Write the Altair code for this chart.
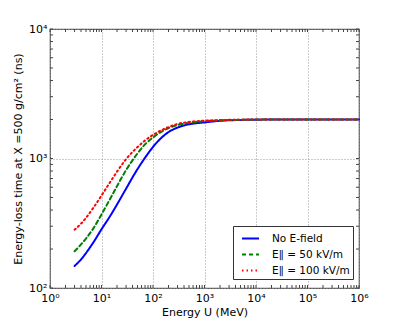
import altair as alt
import pandas as pd

# Energy U (MeV) sample points
energy = [3, 4, 5, 7, 10, 15, 20, 30, 50, 70, 100, 200, 300, 500, 1000, 2000, 5000, 1e4, 1e5, 1e6]
# Energy-loss time (ns)
no_field = [148, 166, 186, 226, 284, 364, 441, 585, 828, 1013, 1229, 1599, 1733, 1837, 1900, 1955, 1985, 1995, 2000, 2000]
e50 = [192, 217, 241, 290, 370, 495, 612, 813, 1094, 1285, 1455, 1718, 1810, 1885, 1940, 1972, 1990, 1997, 2000, 2000]
e100 = [282, 314, 348, 418, 518, 665, 791, 988, 1225, 1377, 1522, 1748, 1850, 1915, 1958, 1980, 1994, 1998, 2000, 2000]

series_names = ["No E-field", "E\u2225 = 50 kV/m", "E\u2225 = 100 kV/m"]
series_colors = ["#0000ff", "#008000", "#ff0000"]
series_dash = [[1, 0], [4, 3], [1.5, 3]]

x_major = [1, 10, 100, 1e3, 1e4, 1e5, 1e6]
y_major = [100, 1000, 10000]

rows = []
for name, vals in zip(series_names, [no_field, e50, e100]):
    for e, t in zip(energy, vals):
        rows.append({"E": e, "t": t, "series": name})
df = pd.DataFrame(rows)

# axis decoration ticks (inside, like matplotlib)
x_minor = [m * 10 ** k for k in range(6) for m in range(2, 10)]
y_minor = [m * 10 ** k for k in range(2, 4) for m in range(2, 10)]
xt = pd.DataFrame({"E": x_major + x_minor})
yt = pd.DataFrame({"t": y_major + y_minor})

W, H = 309, 259
FONT = "DejaVu Sans"

xscale = alt.Scale(type="log", domain=[1, 1e6], nice=False)
yscale = alt.Scale(type="log", domain=[100, 10000], nice=False)

sup = "['\u2070','\u00b9','\u00b2','\u00b3','\u2074','\u2075','\u2076']"
lab = "'10' + " + sup + "[round(log(datum.value)/LN10)]"

x_axis = alt.Axis(values=x_major, ticks=False, grid=True, domain=False, labelExpr=lab,
                  labelPadding=4, titlePadding=3, labelFlush=False)
y_axis = alt.Axis(values=y_major, ticks=False, grid=True, domain=False, labelExpr=lab,
                  labelPadding=3, titlePadding=5, labelFlush=False)
XT = "Energy U (MeV)"
YT = "Energy-loss time at X =500 g/cm\u00b2  (ns)"

leg = dict(orient="none", legendX=183, legendY=197, title=None,
           symbolType="stroke", symbolSize=289, symbolStrokeWidth=2,
           labelFontSize=10.5, labelFont=FONT, labelOffset=12,
           symbolOffset=5, padding=3, rowPadding=1,
           strokeColor="#333333", fillColor="white", cornerRadius=0)

lines = alt.Chart(df).mark_line(strokeWidth=2, interpolate="monotone", strokeCap="round").encode(
    x=alt.X("E:Q", scale=xscale, title=XT, axis=x_axis),
    y=alt.Y("t:Q", scale=yscale, title=YT, axis=y_axis),
    color=alt.Color("series:N", scale=alt.Scale(domain=series_names, range=series_colors),
                    legend=alt.Legend(**leg)),
    strokeDash=alt.StrokeDash("series:N", scale=alt.Scale(domain=series_names, range=series_dash),
                              legend=alt.Legend(**leg)),
    order=alt.Order("E:Q"),
)

tick_col = "#444444"
xb = alt.Chart(xt).mark_rule(color=tick_col, strokeWidth=1).encode(
    x=alt.X("E:Q", scale=xscale, title=XT, axis=x_axis), y=alt.value(H), y2=alt.value(H - 3))
xtop = alt.Chart(xt).mark_rule(color=tick_col, strokeWidth=1).encode(
    x=alt.X("E:Q", scale=xscale, title=XT, axis=x_axis), y=alt.value(0), y2=alt.value(3))
yl = alt.Chart(yt).mark_rule(color=tick_col, strokeWidth=1).encode(
    y=alt.Y("t:Q", scale=yscale, title=YT, axis=y_axis), x=alt.value(0), x2=alt.value(3))
yr = alt.Chart(yt).mark_rule(color=tick_col, strokeWidth=1).encode(
    y=alt.Y("t:Q", scale=yscale, title=YT, axis=y_axis), x=alt.value(W), x2=alt.value(W - 3))

chart = alt.layer(lines, xb, xtop, yl, yr).properties(
    width=W, height=H,
    autosize=alt.AutoSizeParams(type="none"),
    padding={"left": 42, "top": 21, "right": 30, "bottom": 30},
    background="white",
).configure_view(stroke="#555555", strokeWidth=1.2).configure_axis(
    labelFont=FONT, titleFont=FONT, labelFontSize=11, titleFontSize=11,
    titleFontWeight="normal", labelColor="black", titleColor="black",
    gridColor="#999999", gridDash=[1, 2], gridWidth=1,
)

chart.save("out.html", embed_options={"renderer": "svg", "actions": False})
